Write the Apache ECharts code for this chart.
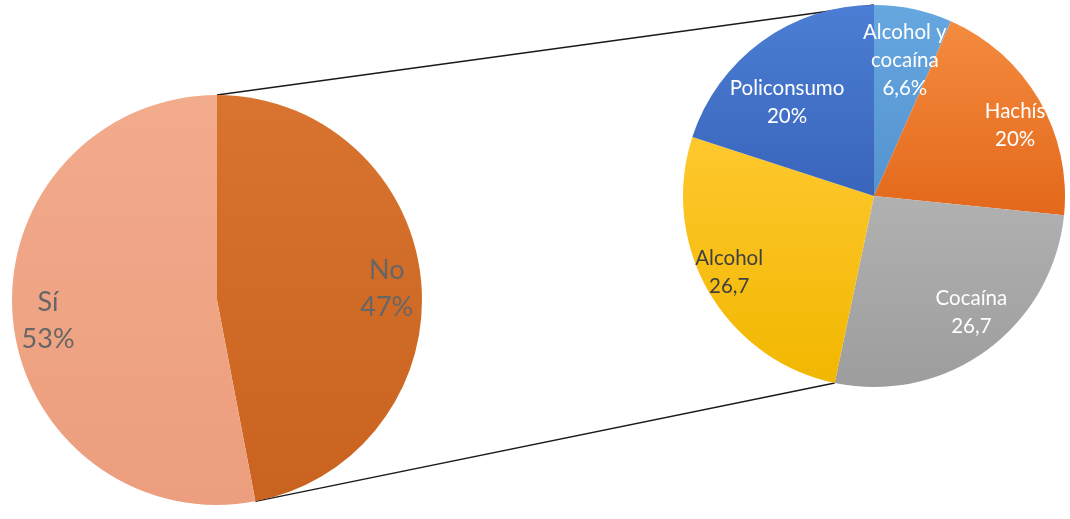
<!DOCTYPE html>
<html>
<head>
<meta charset="utf-8">
<script src="https://cdn.jsdelivr.net/npm/echarts@6/dist/echarts.min.js"></script>
<style>
  html, body { margin: 0; padding: 0; background: #ffffff; }
  #chart { width: 1070px; height: 519px; }
</style>
</head>
<body>
<div id="chart"></div>
<script>
// Main split: did they consume?
const mainNames = ['No', 'Sí'];
const mainValues = [47, 53];
const mainLabels = ['47%', '53%'];

// Breakdown by substance
const detailNames = ['Alcohol y\ncocaína', 'Hachís', 'Cocaína', 'Alcohol', 'Policonsumo'];
const detailValues = [6.6, 20, 26.7, 26.7, 20];
const detailLabels = ['6,6%', '20%', '26,7', '26,7', '20%'];

// Geometry of the two pies (px)
const mainPie = { cx: 217, cy: 300, r: 205 };
const detailPie = { cx: 874, cy: 196, r: 191 };

// Label placement: radial fraction and angular nudge (degrees) per slice
const mainLabelRadius = [0.83, 0.83];
const mainLabelShift = [1.5, -1.5];
const detailLabelRadius = [0.73, 0.825, 0.795, 0.857, 0.67];
const detailLabelShift = [0.9, 3.8, -3.7, 2.3, -6.8];

const FONT = 'Lato, "Open Sans", sans-serif';

function grad(top, bottom) {
  return new echarts.graphic.LinearGradient(0, 0, 0, 1, [
    { offset: 0, color: top },
    { offset: 1, color: bottom }
  ]);
}

const mainColors = [grad('#D8742F', '#C9631F'), grad('#F2AB8B', '#EC9E7E')];
const detailColors = [
  grad('#67A7E0', '#5493CF'),
  grad('#F48B3F', '#E3681B'),
  grad('#B1B1B1', '#9D9D9D'),
  grad('#FFC82E', '#F1B700'),
  grad('#4B7ED4', '#3965BB')
];
const detailTextColors = ['#ffffff', '#ffffff', '#ffffff', '#404040', '#ffffff'];

// Angle (radians, clockwise from 12 o'clock) at a cumulative position
function angleAt(values, upto) {
  const total = values.reduce((a, b) => a + b, 0);
  let s = 0;
  for (let i = 0; i < upto; i++) s += values[i];
  return s / total * Math.PI * 2;
}
function midAngle(values, i) {
  return (angleAt(values, i) + angleAt(values, i + 1)) / 2;
}
function pointOn(pie, angle, rr) {
  return [pie.cx + rr * Math.sin(angle), pie.cy - rr * Math.cos(angle)];
}

function labelLayoutFor(pie, values, radii, shifts) {
  return function (params) {
    const i = params.dataIndex;
    const a = midAngle(values, i) + shifts[i] * Math.PI / 180;
    const p = pointOn(pie, a, pie.r * radii[i]);
    return { x: p[0], y: p[1], align: 'center', verticalAlign: 'middle' };
  };
}

// Connector lines: top of the "No" slice to top of the breakdown pie,
// end of the "No" slice to the lower edge of the breakdown pie
const topA = pointOn(mainPie, angleAt(mainValues, 0), mainPie.r);
const topB = pointOn(detailPie, angleAt(detailValues, 0), detailPie.r);
const botA = pointOn(mainPie, angleAt(mainValues, 1), mainPie.r);
const botB = pointOn(detailPie, angleAt(detailValues, 3), detailPie.r);

const chart = echarts.init(document.getElementById('chart'), null, { renderer: 'canvas' });

chart.setOption({
  backgroundColor: '#ffffff',
  animation: false,
  graphic: [
    { type: 'line', z: 0, shape: { x1: topA[0], y1: topA[1], x2: topB[0], y2: topB[1] },
      style: { stroke: '#1a1a1a', lineWidth: 1.5 } },
    { type: 'line', z: 0, shape: { x1: botA[0], y1: botA[1], x2: botB[0], y2: botB[1] },
      style: { stroke: '#1a1a1a', lineWidth: 1.5 } }
  ],
  series: [
    {
      type: 'pie',
      z: 2,
      center: [mainPie.cx, mainPie.cy],
      radius: [0, mainPie.r],
      startAngle: 90,
      clockwise: true,
      silent: true,
      labelLine: { show: false },
      label: {
        show: true,
        position: 'inside',
        fontFamily: FONT,
        fontSize: 27,
        lineHeight: 37,
        color: '#666666',
        formatter: p => p.name + '\n' + mainLabels[p.dataIndex]
      },
      labelLayout: labelLayoutFor(mainPie, mainValues, mainLabelRadius, mainLabelShift),
      data: mainNames.map((n, i) => ({
        name: n, value: mainValues[i], itemStyle: { color: mainColors[i] }
      }))
    },
    {
      type: 'pie',
      z: 2,
      center: [detailPie.cx, detailPie.cy],
      radius: [0, detailPie.r],
      startAngle: 90,
      clockwise: true,
      silent: true,
      labelLine: { show: false },
      label: {
        show: true,
        position: 'inside',
        fontFamily: FONT,
        fontSize: 20.5,
        lineHeight: 28,
        formatter: p => p.name + '\n' + detailLabels[p.dataIndex]
      },
      labelLayout: labelLayoutFor(detailPie, detailValues, detailLabelRadius, detailLabelShift),
      data: detailNames.map((n, i) => ({
        name: n, value: detailValues[i],
        itemStyle: { color: detailColors[i] },
        label: { color: detailTextColors[i] }
      }))
    }
  ]
});
</script>
</body>
</html>
